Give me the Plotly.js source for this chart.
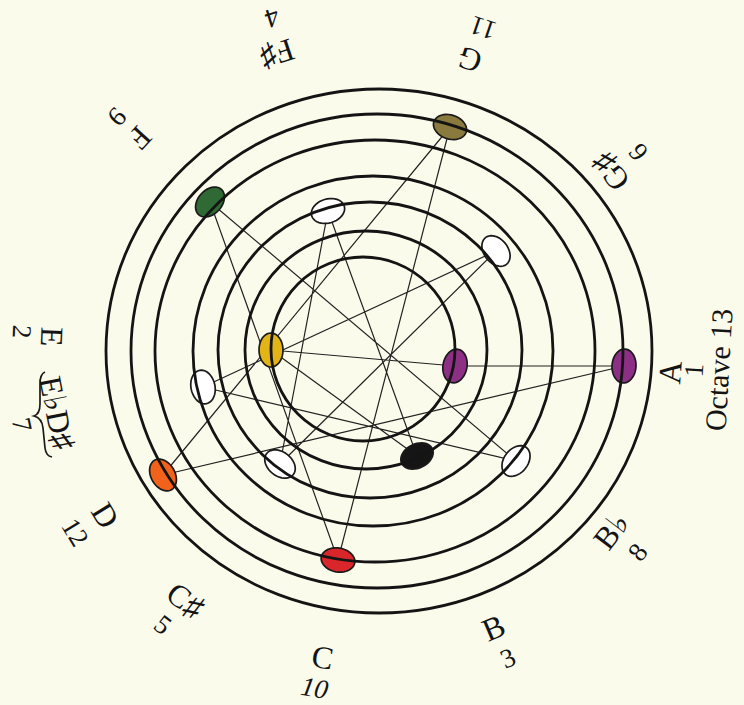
<!DOCTYPE html>
<html><head><meta charset="utf-8">
<script src="https://cdn.plot.ly/plotly-3.0.1.min.js"></script>
<style>html,body{margin:0;padding:0;background:#fbfbec;} #chart{width:744px;height:705px;}</style>
</head><body><div id="chart"></div>
<script>
// ---- Data: the spiral of fifths (order 1..13) ----
const noteNames    = ['A','E','B','F♯','C♯','G♯','E♭','B♭','F','C','G','D','A'];
const fifthNumbers = [1,2,3,4,5,6,7,8,9,10,11,12,13];
const nodeX = [455,271,417,328,280,496,203,516,210,338,450,163,624];
const nodeY = [366,350,456,211,464,251,387,461,202,560,127,475,366];
const nodeRing = [0,0,1,2,2,2,3,3,4,4,5,5,5];
const nodeColors = ['#8e2f86','#e2b415','#151515','#ffffff','#ffffff','#ffffff','#ffffff','#ffffff','#2f6a35','#d8262a','#8a7a3e','#f2621a','#8e2f86'];

// ---- Rings (concentric, hand drawn) ----
const ringCx = [363,366,370,373,375,377,379];
const ringCy = [349,350,350,351,351,351,351];
const ringRx = [92,121,152,180,220,246,273];
const ringRy = [92,119,148,175,211,237,262];

// ---- Label texts ----
const labelTexts = ['A','1','Octave 13','B♭','8','B','3','C','<i>10</i>','C♯','5','D','12','E♭D♯','7','E','2','F','9','F♯','4','G','11','G♯','6'];

// ---- Layout table (positions / sizes, not data) ----
const labelPos = [[670,373],[694,370],[718,370],[611,531],[638,552],[493,628],[508,658],[322,657],[315,688],[185,600],[163,625],[105,515],[75,532],[57,413],[22,425],[52,337],[22,332],[140,138],[117,117],[277,54],[272,18],[470,60],[483,28],[611,172],[638,152]];
const labelSize = [32,27,30,32,27,32,27,32,27,32,27,32,27,32,27,32,27,32,27,32,27,32,27,32,27];
const centre = [375,350];

const serif = 'Liberation Serif, Times New Roman, serif';

function ellipsePath(x, y, a, b, ang) {
  let d = '';
  for (let i = 0; i <= 40; i++) {
    const t = i / 40 * 2 * Math.PI;
    const px = x + a * Math.cos(t) * Math.cos(ang) - b * Math.sin(t) * Math.sin(ang);
    const py = y + a * Math.cos(t) * Math.sin(ang) + b * Math.sin(t) * Math.cos(ang);
    d += (i ? 'L' : 'M') + px.toFixed(2) + ',' + py.toFixed(2);
  }
  return d + 'Z';
}

const shapes = [];
// node fills
nodeX.forEach((x, i) => {
  const r = nodeRing[i];
  const phi = Math.atan2(nodeY[i] - ringCy[r], x - ringCx[r]);
  shapes.push({type:'path', xref:'x', yref:'y', layer:'above',
    path: ellipsePath(x, nodeY[i], 17, 12, phi + Math.PI/2),
    fillcolor: nodeColors[i], line:{color:'#1a1a1a', width:1.7}});
});
// rings
ringCx.forEach((cx, k) => {
  shapes.push({type:'circle', xref:'x', yref:'y', layer:'above',
    x0: cx - ringRx[k], x1: cx + ringRx[k], y0: ringCy[k] - ringRy[k], y1: ringCy[k] + ringRy[k],
    line:{color:'#141414', width:2.8}, fillcolor:'rgba(0,0,0,0)'});
});
// brace under E♭D♯
shapes.push({type:'path', xref:'x', yref:'y', layer:'above',
  path:'M45,372 Q40,374 40,384 L40,404 Q40,414 34,416 Q42,418 43,428 L45,448 Q46,456 52,457',
  line:{color:'#1a1a1a', width:1.7}});

const annotations = labelTexts.map((t, i) => {
  const [x, y] = labelPos[i];
  const th = Math.atan2(-(y - centre[1]), x - centre[0]) * 180 / Math.PI;
  let ta = -(th + 90);
  while (ta > 180) ta -= 360;
  while (ta < -180) ta += 360;
  return {x, y, xref:'x', yref:'y', text:t, showarrow:false, textangle:ta,
    font:{family:serif, size:labelSize[i], color:'#141414'}};
});

const linkTrace = {
  x: nodeX.concat([nodeX[0]]),
  y: nodeY.concat([nodeY[0]]),
  text: noteNames.concat([noteNames[0]]),
  customdata: fifthNumbers.concat([fifthNumbers[0]]),
  mode:'lines', line:{color:'#222', width:1.2}, hoverinfo:'text', type:'scatter'
};

const layout = {
  width:744, height:705, margin:{l:0,r:0,t:0,b:0},
  paper_bgcolor:'#fbfbec', plot_bgcolor:'#fbfbec',
  xaxis:{range:[0,744], visible:false, fixedrange:true},
  yaxis:{range:[705,0], visible:false, fixedrange:true},
  showlegend:false, shapes, annotations
};
Plotly.newPlot('chart', [linkTrace], layout, {displayModeBar:false, staticPlot:true});
</script>
</body></html>
